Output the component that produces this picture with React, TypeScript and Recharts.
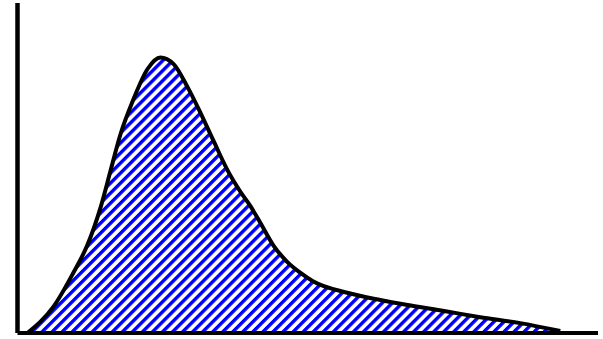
import { AreaChart, Area, XAxis, YAxis } from 'recharts';

// x positions and density values
const xs = [0.17, 0.4, 0.62, 0.96, 1.2, 1.43, 1.6, 1.77, 1.99, 2.24, 2.46, 2.69, 2.93, 3.15, 3.37, 3.61, 3.84, 4.01, 4.18, 4.41, 4.65, 4.87, 5.09, 5.68, 6.25, 6.82, 7.4, 7.97, 8.66, 9.35];
const density = [0, 0.035, 0.08, 0.182, 0.265, 0.38, 0.49, 0.6, 0.705, 0.8, 0.835, 0.815, 0.745, 0.668, 0.585, 0.496, 0.428, 0.385, 0.335, 0.265, 0.215, 0.183, 0.157, 0.122, 0.1, 0.082, 0.065, 0.048, 0.03, 0.006];

const data = xs.map((x, i) => ({ x, y: density[i] }));

export default function App() {
  return (
    <div style={{ position: 'absolute', left: 0, top: 0 }}>
      <AreaChart width={603} height={339} data={data} margin={{ top: 3, right: 5, left: 0, bottom: 0 }}>
        <defs>
          <pattern id="hatch" patternUnits="userSpaceOnUse" width={7.1} height={7.1} patternTransform="rotate(45)">
            <rect x={0} y={0} width={7.1} height={7.1} fill="#ffffff" />
            <rect x={0} y={0} width={3.4} height={7.1} fill="#0000ff" />
          </pattern>
        </defs>
        <XAxis
          dataKey="x"
          type="number"
          domain={[0, 10]}
          tick={false}
          tickLine={false}
          height={6}
          axisLine={{ stroke: '#000', strokeWidth: 4 }}
        />
        <YAxis
          domain={[0, 1]}
          tick={false}
          tickLine={false}
          width={17.5}
          axisLine={{ stroke: '#000', strokeWidth: 4.5 }}
        />
        <Area
          type="monotone"
          dataKey="y"
          stroke="#000"
          strokeWidth={4}
          fill="url(#hatch)"
          fillOpacity={1}
          isAnimationActive={false}
          dot={false}
          activeDot={false}
        />
      </AreaChart>
    </div>
  );
}
